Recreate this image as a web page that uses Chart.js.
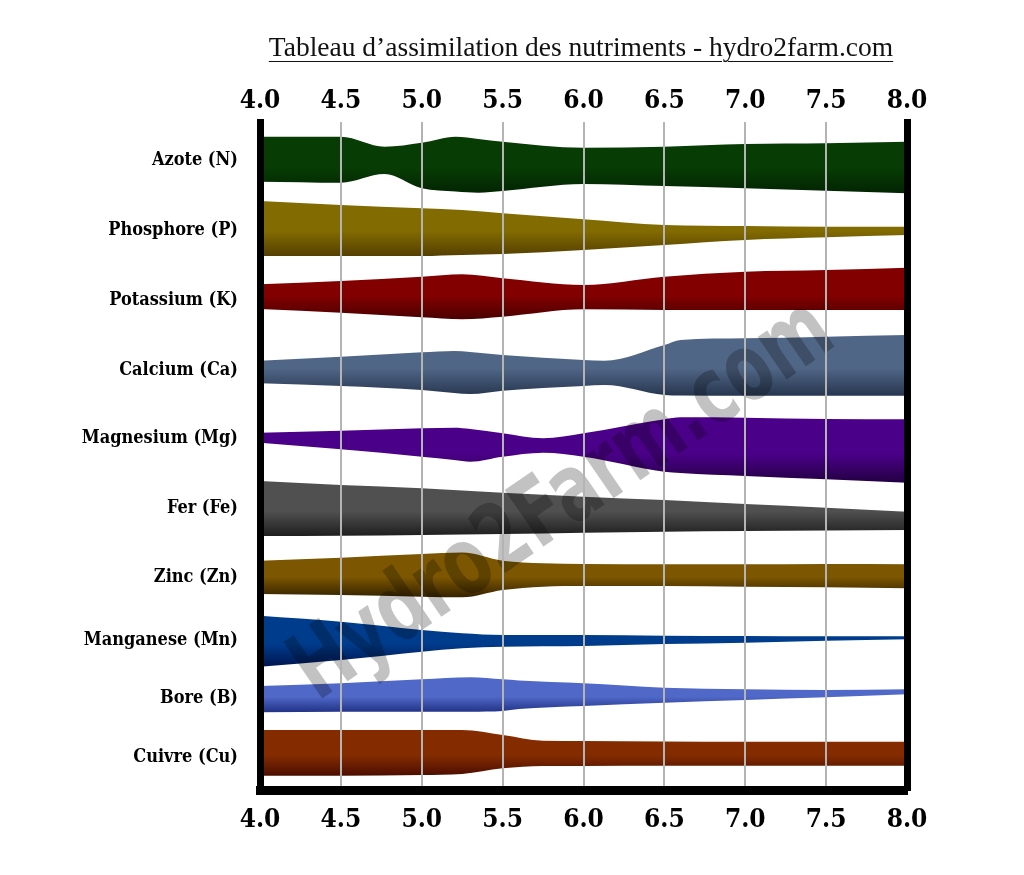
<!DOCTYPE html>
<html>
<head>
<meta charset="utf-8">
<script src="https://cdn.jsdelivr.net/npm/chart.js@4.4.1/dist/chart.umd.min.js"></script>
<style>
  body { margin: 0; background: #fff; }
  #wrap { position: relative; width: 1024px; height: 875px; }
  #titre {
    position: absolute; top: 31px; left: 0; width: 1024px; padding-left: 138px; box-sizing: border-box;
    text-align: center; font-family: 'Liberation Serif', serif; font-size: 27.5px; color: #111;
  }
  #titre span { text-decoration: underline; text-underline-offset: 5px; text-decoration-thickness: 1px; }
</style>
</head>
<body>
<div id="wrap">
  <canvas id="myChart" width="1024" height="875"></canvas>
  <div id="titre"><span>Tableau d’assimilation des nutriments - hydro2farm.com</span></div>
</div>
<script>
// echelle pH (axes haut et bas)
const phTicks = [4.0, 4.5, 5.0, 5.5, 6.0, 6.5, 7.0, 7.5, 8.0];

// nutriments et position de leur libelle sur l'axe vertical
const nutriments = ['Azote (N)', 'Phosphore (P)', 'Potassium (K)', 'Calcium (Ca)', 'Magnesium (Mg)',
  'Fer (Fe)', 'Zinc (Zn)', 'Manganese (Mn)', 'Bore (B)', 'Cuivre (Cu)'];
const labelPos = [3.8, 10.8, 17.8, 24.8, 31.6, 38.6, 45.5, 51.8, 57.6, 63.5];

// couleurs (clair, fonce)
const couleurs = [
  ['#073c04', '#022402'], ['#826b00', '#553f00'], ['#820000', '#4a0000'], ['#506686', '#27364f'],
  ['#4b0089', '#230042'], ['#505050', '#1e1e1e'], ['#7c5600', '#352200'], ['#003c8c', '#001650'],
  ['#5068c8', '#213286'], ['#842c00', '#4c0e00']
];

// [pH, bord haut, bord bas] pour chaque bande
const azote = [[4.0, 1.47, 5.97], [4.5, 1.47, 6.07], [4.77, 2.47, 5.2], [5.0, 2.07, 6.63], [5.21, 1.47, 6.95],
  [5.35, 1.7, 7.07], [5.5, 1.97, 6.9], [6.0, 2.57, 6.2], [6.5, 2.47, 6.4], [7.0, 2.2, 6.63], [7.5, 2.13, 6.87], [8.0, 1.97, 7.13]];
const phosphore = [[4.0, 7.9, 13.4], [4.5, 8.3, 13.4], [5.0, 8.63, 13.4], [5.25, 8.8, 13.3], [5.5, 9.13, 13.2],
  [6.0, 9.73, 12.8], [6.5, 10.3, 12.3], [7.0, 10.4, 11.8], [7.5, 10.47, 11.53], [8.0, 10.47, 11.3]];
const potassium = [[4.0, 16.23, 18.7], [4.5, 15.9, 19.07], [5.0, 15.47, 19.53], [5.25, 15.23, 19.73], [5.5, 15.63, 19.47],
  [6.0, 16.3, 18.73], [6.5, 15.47, 18.8], [7.0, 14.97, 18.8], [7.5, 14.8, 18.8], [8.0, 14.57, 18.8]];
const calcium = [[4.0, 23.87, 26.13], [4.5, 23.47, 26.4], [5.0, 23.03, 26.8], [5.2, 22.9, 27.1], [5.3, 23.0, 27.2],
  [5.5, 23.3, 26.87], [6.0, 23.8, 26.4], [6.13, 23.87, 26.3], [6.5, 22.3, 27.3], [6.6, 21.8, 27.35],
  [7.0, 21.63, 27.37], [7.5, 21.47, 27.37], [8.0, 21.3, 27.37]];
const magnesium = [[4.0, 31.07, 32.07], [4.5, 30.87, 32.73], [5.0, 30.63, 33.47], [5.2, 30.57, 33.8], [5.3, 30.7, 33.97],
  [5.5, 31.13, 33.47], [5.75, 31.63, 33.07], [6.0, 31.13, 33.47], [6.5, 29.73, 34.97], [6.6, 29.53, 35.1],
  [7.0, 29.57, 35.4], [7.5, 29.7, 35.73], [8.0, 29.73, 36.07]];
const fer = [[4.0, 35.9, 41.4], [4.5, 36.3, 41.37], [5.0, 36.63, 41.3], [5.5, 37.07, 41.2], [6.0, 37.47, 41.07],
  [6.5, 37.8, 40.97], [7.0, 38.2, 40.9], [7.5, 38.57, 40.85], [8.0, 38.97, 40.8]];
const zinc = [[4.0, 43.87, 47.2], [4.5, 43.57, 47.3], [5.0, 43.2, 47.47], [5.25, 43.05, 47.53], [5.5, 43.87, 46.8],
  [5.75, 44.13, 46.47], [6.0, 44.2, 46.4], [6.5, 44.23, 46.4], [7.0, 44.23, 46.47], [7.5, 44.2, 46.53], [8.0, 44.23, 46.63]];
const manganese = [[4.0, 49.37, 54.47], [4.5, 49.97, 53.8], [5.0, 50.8, 52.97], [5.25, 51.13, 52.63], [5.5, 51.3, 52.47],
  [6.0, 51.3, 52.4], [6.5, 51.37, 52.2], [7.0, 51.4, 52.07], [7.5, 51.43, 51.87], [8.0, 51.43, 51.73]];
const bore = [[4.0, 56.4, 59.03], [4.5, 56.13, 58.97], [5.0, 55.73, 58.97], [5.3, 55.53, 58.97], [5.5, 55.73, 58.9],
  [5.6, 55.85, 58.7], [6.0, 56.13, 58.4], [6.5, 56.57, 58.07], [7.0, 56.73, 57.8], [7.5, 56.8, 57.53], [8.0, 56.73, 57.23]];
const cuivre = [[4.0, 60.8, 65.37], [4.5, 60.8, 65.37], [5.0, 60.8, 65.3], [5.25, 60.8, 65.2], [5.5, 61.3, 64.63],
  [5.75, 61.87, 64.4], [6.0, 61.9, 64.4], [6.5, 61.95, 64.38], [7.0, 61.97, 64.37], [7.5, 61.97, 64.37], [8.0, 61.97, 64.37]];

const bandes = [azote, phosphore, potassium, calcium, magnesium, fer, zinc, manganese, bore, cuivre];

const policeLourde = "'DejaVu Serif Condensed', 'DejaVu Serif', serif";

// degrade vertical sur la hauteur de la bande
function degrade(context, band, col) {
    const chart = context.chart;
    const y = chart.scales.y;
    if (!chart.chartArea || !y) return col[0];
    const top = y.getPixelForValue(Math.min(...band.map(p => p[1])));
    const bot = y.getPixelForValue(Math.max(...band.map(p => p[2])));
    const g = chart.ctx.createLinearGradient(0, top, 0, bot);
    g.addColorStop(0, col[0]);
    g.addColorStop(0.55, col[0]);
    g.addColorStop(1, col[1]);
    return g;
}

const datasets = [];
bandes.forEach((band, i) => {
    datasets.push({
        label: nutriments[i] + ' haut',
        data: band.map(p => ({x: p[0], y: p[1]})),
        borderWidth: 0, pointRadius: 0, fill: false,
        cubicInterpolationMode: 'monotone'
    });
    datasets.push({
        label: nutriments[i],
        data: band.map(p => ({x: p[0], y: p[2]})),
        borderWidth: 0, pointRadius: 0, fill: '-1',
        cubicInterpolationMode: 'monotone',
        backgroundColor: ctx => degrade(ctx, band, couleurs[i])
    });
});

// filigrane
const filigrane = {
    id: 'filigrane',
    afterDatasetsDraw(chart) {
        const {ctx, chartArea} = chart;
        const cx = chartArea.left + 0.47 * (chartArea.right - chartArea.left);
        const cy = chartArea.top + 0.57 * (chartArea.bottom - chartArea.top);
        ctx.save();
        ctx.globalCompositeOperation = 'multiply';
        ctx.translate(cx, cy);
        ctx.rotate(-34.5 * Math.PI / 180);
        ctx.scale(0.7, 1);
        ctx.font = "bold 94px 'DejaVu Sans', sans-serif";
        ctx.fillStyle = '#c2c2c2';
        ctx.textAlign = 'center';
        ctx.textBaseline = 'middle';
        ctx.fillText('Hydro2Farm.com', 0, 0);
        ctx.restore();
    }
};

const ctx = document.getElementById('myChart').getContext('2d');
new Chart(ctx, {
    type: 'line',
    data: { datasets: datasets },
    plugins: [filigrane],
    options: {
        responsive: false,
        animation: false,
        devicePixelRatio: 1,
        layout: { padding: { left: 0, right: 117, top: 0, bottom: 0 } },
        plugins: { legend: { display: false }, tooltip: { enabled: false }, title: { display: false } },
        scales: {
            x: {
                type: 'linear', position: 'bottom', min: 4, max: 8,
                afterBuildTicks: s => { s.ticks = phTicks.map(v => ({value: v})); },
                afterFit: s => { s.height = 85; },
                ticks: {
                    callback: v => v.toFixed(1), color: '#000', padding: 15, maxRotation: 0, autoSkip: false,
                    font: { family: policeLourde, size: 26, weight: 'bold' }
                },
                grid: {
                    z: 1, lineWidth: 2, drawTicks: false,
                    color: c => (c.tick && (c.tick.value === 4 || c.tick.value === 8)) ? 'rgba(0,0,0,0)' : '#b4b4b4'
                },
                border: { display: true, color: '#000', width: 9, z: 2 }
            },
            xTop: {
                type: 'linear', position: 'top', min: 4, max: 8,
                afterBuildTicks: s => { s.ticks = phTicks.map(v => ({value: v})); },
                afterFit: s => { s.height = 122; },
                ticks: {
                    callback: v => v.toFixed(1), color: '#000', padding: 5, maxRotation: 0, autoSkip: false,
                    font: { family: policeLourde, size: 26, weight: 'bold' }
                },
                grid: { display: false, drawTicks: false },
                border: { display: false }
            },
            y: {
                type: 'linear', position: 'left', min: 0, max: 66.8, reverse: true,
                afterBuildTicks: s => { s.ticks = labelPos.map(v => ({value: v})); },
                afterFit: s => { s.width = 260; },
                ticks: {
                    callback: (v, i) => nutriments[i], color: '#000', padding: 22, autoSkip: false,
                    font: { family: policeLourde, size: 18, weight: 'bold' }
                },
                grid: { display: false, drawTicks: false },
                border: { display: true, color: '#000', width: 7, z: 2 }
            },
            yRight: {
                type: 'linear', position: 'right', min: 0, max: 66.8, reverse: true,
                afterFit: s => { s.width = 0; },
                ticks: { display: false },
                grid: { display: false, drawTicks: false },
                border: { display: true, color: '#000', width: 7, z: 2 }
            }
        }
    }
});
</script>
</body>
</html>
